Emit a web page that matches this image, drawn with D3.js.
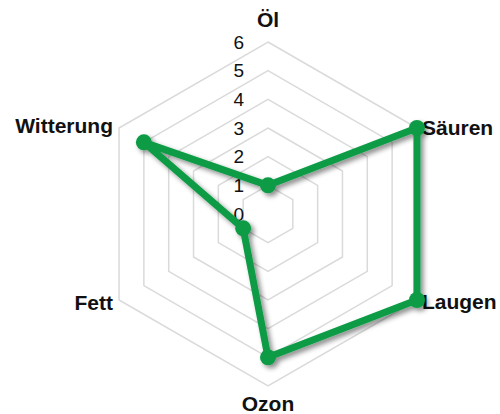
<!DOCTYPE html>
<html>
<head>
<meta charset="utf-8">
<script src="https://cdn.jsdelivr.net/npm/d3@7"></script>
<style>
  body { margin: 0; background: #fff; }
  svg { display: block; font-family: "Liberation Sans", Arial, sans-serif; }
</style>
</head>
<body>
<svg id="chart" width="500" height="414"></svg>
<script>
// axes clockwise from top
var categories = ["Öl", "Säuren", "Laugen", "Ozon", "Fett", "Witterung"]
var values = [1, 6, 6, 5, 1, 5]
var tickValues = [0, 1, 2, 3, 4, 5, 6]

var cx = 268, cy = 214, radius = 172
var svg = d3.select("#chart")

var r = d3.scaleLinear().domain([0, 6]).range([0, radius])
var angle = d3.scalePoint().domain(categories).range([0, 2 * Math.PI * (categories.length - 1) / categories.length])

function pos(cat, v) {
  var a = angle(cat)
  return [cx + Math.sin(a) * r(v), cy - Math.cos(a) * r(v)]
}

var defs = svg.append("defs")
var f = defs.append("filter").attr("id", "shadow").attr("x", "-20%").attr("y", "-20%").attr("width", "140%").attr("height", "140%")
f.append("feDropShadow").attr("dx", 3).attr("dy", 3).attr("stdDeviation", 2.5)
  .attr("flood-color", "#000").attr("flood-opacity", 0.45)

// hexagon grid
var grid = svg.append("g")
grid.selectAll("path")
  .data(tickValues.filter(function (d) { return d > 0 }))
  .enter().append("path")
  .attr("d", function (t) {
    return d3.line()(categories.map(function (c) { return pos(c, t) })) + "Z"
  })
  .attr("fill", "none")
  .attr("stroke", "#dadada")
  .attr("stroke-width", 1.5)

// tick labels
svg.append("g").selectAll("text")
  .data(tickValues)
  .enter().append("text")
  .attr("x", 244)
  .attr("y", function (d) { return cy - r(d) })
  .attr("dy", "0.35em")
  .attr("text-anchor", "end")
  .attr("font-size", 19)
  .attr("fill", "#111")
  .text(function (d) { return d })

// axis labels
var labelPos = {
  "Öl": { dx: 0, dy: -22, anchor: "middle" },
  "Säuren": { dx: 5, dy: 0, anchor: "start" },
  "Laugen": { dx: 5, dy: 2, anchor: "start" },
  "Ozon": { dx: 0, dy: 18, anchor: "middle" },
  "Fett": { dx: -6, dy: 3, anchor: "end" },
  "Witterung": { dx: -6, dy: -2, anchor: "end" }
}
svg.append("g").selectAll("text")
  .data(categories)
  .enter().append("text")
  .attr("x", function (d) { return pos(d, 6)[0] + labelPos[d].dx })
  .attr("y", function (d) { return pos(d, 6)[1] + labelPos[d].dy })
  .attr("dy", "0.35em")
  .attr("text-anchor", function (d) { return labelPos[d].anchor })
  .attr("font-size", 21)
  .attr("font-weight", "bold")
  .attr("fill", "#111")
  .text(function (d) { return d })

// data series
var pts = categories.map(function (c, i) { return pos(c, values[i]) })
var series = svg.append("g").attr("filter", "url(#shadow)")
series.append("path")
  .attr("d", d3.line()(pts) + "Z")
  .attr("fill", "none")
  .attr("stroke", "#0a9b45")
  .attr("stroke-width", 7)
  .attr("stroke-linejoin", "round")
series.selectAll("circle")
  .data(pts)
  .enter().append("circle")
  .attr("cx", function (d) { return d[0] })
  .attr("cy", function (d) { return d[1] })
  .attr("r", 8)
  .attr("fill", "#0a9b45")
</script>
</body>
</html>
